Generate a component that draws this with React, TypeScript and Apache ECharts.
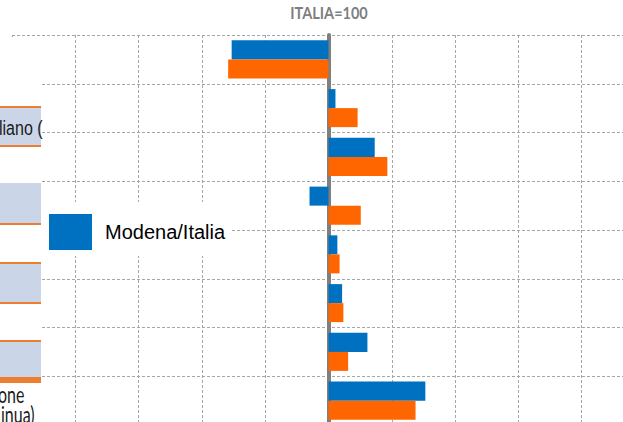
import React, { useEffect, useRef } from "react";
import * as echarts from "echarts";

const categories = [
  "Indicatore 1",
  "Indicatore 2",
  "Indicatore 3",
  "Indicatore 4",
  "Indicatore 5",
  "Indicatore 6",
  "Indicatore 7",
  "Indicatore 8",
];
// Index values, Italia = 100
const modenaItalia = [69.4, 102.2, 114.6, 94, 102.8, 104.3, 112.3, 130.6];
const emiliaItalia = [68.3, 109.2, 118.6, 110.2, 103.5, 104.7, 106.2, 127.5];
const BASE = 100;
const xMin = 0;
const xMax = 200;
const xStep = 20;

export default function App() {
  const ref = useRef<HTMLDivElement>(null);
  useEffect(() => {
    if (!ref.current) return;
    const chart = echarts.init(ref.current, undefined, { renderer: "svg" });
    const grid = "#A6A6A6";
    const blueBox = "#CAD6E8";
    const orangeLine = "#ED7D31";
    chart.setOption({
      animation: false,
      backgroundColor: "#ffffff",
      legend: {
        data: ["Modena/Italia"],
        left: 41,
        top: 202,
        orient: "horizontal",
        padding: [12, 7, 6, 8],
        backgroundColor: "#ffffff",
        itemWidth: 43,
        itemHeight: 36,
        icon: "rect",
        textStyle: {
          fontFamily: "Liberation Sans",
          fontSize: 20,
          color: "#000000",
          padding: [0, 0, 0, 8],
        },
      },
      grid: { left: 12, top: 35, width: 633, height: 390, containLabel: false },
      xAxis: {
        type: "value",
        min: xMin - BASE,
        max: xMax - BASE,
        interval: xStep,
        axisLine: { show: false },
        axisTick: { show: false },
        axisLabel: { show: false },
        splitLine: { show: true, lineStyle: { color: grid, type: [3, 2], width: 1 } },
      },
      yAxis: {
        type: "category",
        data: categories,
        inverse: true,
        axisLine: { show: true, onZero: true, lineStyle: { color: "#7F7F7F", width: 4 } },
        axisTick: { show: false },
        axisLabel: { show: false },
        splitLine: { show: true, lineStyle: { color: grid, type: [3, 2], width: 1 } },
      },
      series: [
        {
          name: "Modena/Italia",
          type: "bar",
          data: modenaItalia.map((v) => +(v - BASE).toFixed(2)),
          itemStyle: { color: "#0070C0" },
          barGap: "0%",
          barCategoryGap: "22%",
        },
        {
          name: "Emilia-Romagna/Italia",
          type: "bar",
          data: emiliaItalia.map((v) => +(v - BASE).toFixed(2)),
          itemStyle: { color: "#FF6600" },
          barGap: "0%",
          barCategoryGap: "22%",
        },
      ],
      graphic: [
        {
          type: "text",
          z: 100,
          x: 329,
          y: 12.5,
          scaleY: 1.15,
          style: {
            text: "ITALIA=100",
            fontFamily: "Lato",
            fontWeight: "bold",
            fontSize: 14.5,
            fill: "#7F7F7F",
            textAlign: "center",
            verticalAlign: "middle",
          },
        },
        { type: "rect", z: 100, shape: { x: 0, y: 37, width: 41, height: 400 }, style: { fill: "#ffffff" } },
        // box 1
        { type: "rect", z: 101, shape: { x: 0, y: 106, width: 41, height: 41 }, style: { fill: orangeLine } },
        { type: "rect", z: 102, shape: { x: 0, y: 108, width: 41, height: 37 }, style: { fill: blueBox } },
        {
          type: "text",
          z: 103,
          x: -1,
          y: 128,
          scaleY: 1.25,
          style: { text: "liano (", fontFamily: "Liberation Sans", fontSize: 16, fill: "#1a1a1a", verticalAlign: "middle" },
        },
        // box 2
        { type: "rect", z: 101, shape: { x: 0, y: 183, width: 41, height: 42 }, style: { fill: orangeLine } },
        { type: "rect", z: 102, shape: { x: 0, y: 183, width: 41, height: 40 }, style: { fill: blueBox } },
        // box 3
        { type: "rect", z: 101, shape: { x: 0, y: 262, width: 41, height: 42 }, style: { fill: orangeLine } },
        { type: "rect", z: 102, shape: { x: 0, y: 264, width: 41, height: 38 }, style: { fill: blueBox } },
        // box 4
        { type: "rect", z: 101, shape: { x: 0, y: 340, width: 41, height: 43 }, style: { fill: orangeLine } },
        { type: "rect", z: 102, shape: { x: 0, y: 342, width: 41, height: 35 }, style: { fill: blueBox } },
        {
          type: "text",
          z: 103,
          x: -2,
          y: 394,
          scaleY: 1.4,
          style: { text: "one", fontFamily: "Lato", fontSize: 16, fill: "#1a1a1a", verticalAlign: "middle" },
        },
        {
          type: "text",
          z: 103,
          x: 1,
          y: 414,
          scaleY: 1.4,
          style: { text: "inua)", fontFamily: "Lato", fontSize: 16, fill: "#1a1a1a", verticalAlign: "middle" },
        },
      ],
    });
    return () => chart.dispose();
  }, []);
  return (
    <div style={{ position: "absolute", left: 0, top: 0, width: 623, height: 422, overflow: "hidden" }}>
      <div ref={ref} style={{ width: 660, height: 440 }} />
    </div>
  );
}
